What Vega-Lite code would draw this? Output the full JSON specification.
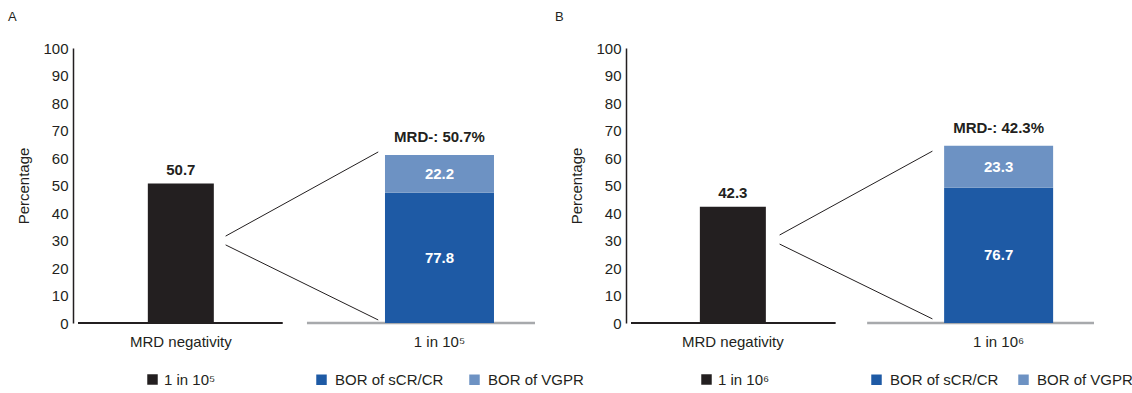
{
  "$schema": "https://vega.github.io/schema/vega-lite/v6.json",
  "autosize": {"type": "pad"},
  "padding": {"left": 8, "top": 11, "right": 5, "bottom": 5},
  "bounds": "flush",
  "spacing": 86,
  "config": {
    "view": {"stroke": null},
    "font": "Liberation Sans",
    "axisY": {
      "domainColor": "#231f20", "domainWidth": 1.5, "ticks": false, "grid": false,
      "labelFont": "Liberation Sans", "labelFontSize": 15, "labelColor": "#231f20", "labelPadding": 5,
      "titleFont": "Liberation Sans", "titleFontSize": 15, "titleFontWeight": "normal", "titleColor": "#231f20", "titlePadding": 11,
      "tickCount": 10
    },
    "legend": {
      "orient": "none", "title": null, "symbolType": "square", "symbolSize": 110, "symbolStrokeWidth": 0,
      "labelFont": "Liberation Sans", "labelFontSize": 15, "labelColor": "#231f20", "padding": 0, "direction": "horizontal"
    },
    "title": {"font": "Liberation Sans", "fontSize": 13, "fontWeight": "normal", "color": "#231f20", "anchor": "start", "frame": "group"}
  },
  "resolve": {
    "scale": {"color": "independent", "fill": "independent", "x": "independent", "y": "independent"},
    "legend": {"color": "independent", "fill": "independent"}
  },
  "hconcat": [
    {
      "width": 467, "height": 275,
      "title": {"text": "A", "dx": -65, "offset": 17},
      "layer": [
        {
          "data": {"values": [{"x0": 0, "x1": 44.8}]},
          "mark": {"type": "rule", "color": "#231f20", "strokeWidth": 2},
          "encoding": {
            "x": {"field": "x0", "type": "quantitative", "scale": {"domain": [0, 100], "nice": false, "zero": false}, "axis": null},
            "x2": {"field": "x1"},
            "y": {"datum": 0, "type": "quantitative", "scale": {"domain": [0, 100], "nice": false}, "title": "Percentage"}
          }
        },
        {
          "data": {"values": [{"x0": 50.1, "x1": 100}]},
          "mark": {"type": "rule", "color": "#a7a9ac", "strokeWidth": 2.5},
          "encoding": {
            "x": {"field": "x0", "type": "quantitative", "scale": {"domain": [0, 100], "nice": false, "zero": false}, "axis": null},
            "x2": {"field": "x1"},
            "y": {"datum": 0, "type": "quantitative", "scale": {"domain": [0, 100], "nice": false}, "title": "Percentage"}
          }
        },
        {
          "data": {"values": [
            {"x1": 32.3, "y1": 31.6, "x2": 65.7, "y2": 62.2},
            {"x1": 32.3, "y1": 28.4, "x2": 65.7, "y2": 1.1}
          ]},
          "mark": {"type": "rule", "color": "#231f20", "strokeWidth": 1},
          "encoding": {
            "x": {"field": "x1", "type": "quantitative", "scale": {"domain": [0, 100], "nice": false, "zero": false}, "axis": null},
            "x2": {"field": "x2"},
            "y": {"field": "y1", "type": "quantitative", "scale": {"domain": [0, 100], "nice": false}, "title": "Percentage"},
            "y2": {"field": "y2"}
          }
        },
        {
          "data": {"values": [{"cat": "MRD negativity", "series": "1 in 10⁵", "xc": 22.5, "pct": 50.7}]},
          "layer": [
            {
              "mark": {"type": "bar", "width": 66},
              "encoding": {
                "x": {"field": "xc", "type": "quantitative", "scale": {"domain": [0, 100], "nice": false, "zero": false}, "axis": null},
                "y": {"field": "pct", "type": "quantitative", "scale": {"domain": [0, 100], "nice": false}, "title": "Percentage"},
                "color": {"field": "series", "type": "nominal", "scale": {"range": ["#231f20"]},
                  "legend": {"legendX": 72, "legendY": 324, "labelOffset": 4}}
              }
            },
            {
              "mark": {"type": "text", "fontSize": 15, "fontWeight": "bold", "color": "#231f20", "dy": -14, "baseline": "middle"},
              "encoding": {
                "x": {"field": "xc", "type": "quantitative", "scale": {"domain": [0, 100], "nice": false, "zero": false}, "axis": null},
                "y": {"field": "pct", "type": "quantitative", "scale": {"domain": [0, 100], "nice": false}, "title": "Percentage"},
                "text": {"field": "pct", "type": "quantitative", "format": ".1f"}
              }
            }
          ]
        },
        {
          "data": {"values": [
            {"cat": "1 in 10⁵", "series": "BOR of sCR/CR", "share": 77.8, "h": 47.4, "xc": 79.1},
            {"cat": "1 in 10⁵", "series": "BOR of VGPR", "share": 22.2, "h": 13.7, "xc": 79.1}
          ]},
          "transform": [
            {"stack": "h", "groupby": ["cat"], "sort": [{"field": "share", "order": "descending"}], "as": ["y0", "y1"]},
            {"calculate": "(datum.y0 + datum.y1) / 2", "as": "ym"}
          ],
          "layer": [
            {
              "mark": {"type": "bar", "width": 109},
              "encoding": {
                "x": {"field": "xc", "type": "quantitative", "scale": {"domain": [0, 100], "nice": false, "zero": false}, "axis": null},
                "y": {"field": "y0", "type": "quantitative", "scale": {"domain": [0, 100], "nice": false}, "title": "Percentage"},
                "y2": {"field": "y1"},
                "fill": {"field": "series", "type": "nominal",
                  "scale": {"domain": ["BOR of sCR/CR", "BOR of VGPR"], "range": ["#1e5aa5", "#6d92c3"]},
                  "legend": {"legendX": 241, "legendY": 324, "labelOffset": 6, "columnPadding": 23}}
              }
            },
            {
              "mark": {"type": "text", "fontSize": 15, "fontWeight": "bold", "color": "white", "baseline": "middle"},
              "encoding": {
                "x": {"field": "xc", "type": "quantitative", "scale": {"domain": [0, 100], "nice": false, "zero": false}, "axis": null},
                "y": {"field": "ym", "type": "quantitative", "scale": {"domain": [0, 100], "nice": false}, "title": "Percentage"},
                "text": {"field": "share", "type": "quantitative", "format": ".1f"}
              }
            }
          ]
        },
        {
          "data": {"values": [{"xc": 79.1, "top": 61.1, "label": "MRD-: 50.7%"}]},
          "mark": {"type": "text", "fontSize": 15, "fontWeight": "bold", "color": "#231f20", "dy": -18, "baseline": "middle"},
          "encoding": {
            "x": {"field": "xc", "type": "quantitative", "scale": {"domain": [0, 100], "nice": false, "zero": false}, "axis": null},
            "y": {"field": "top", "type": "quantitative", "scale": {"domain": [0, 100], "nice": false}, "title": "Percentage"},
            "text": {"field": "label"}
          }
        },
        {
          "data": {"values": [{"xc": 22.5, "label": "MRD negativity"}, {"xc": 79.1, "label": "1 in 10⁵"}]},
          "mark": {"type": "text", "fontSize": 15, "color": "#231f20", "dy": 19, "baseline": "middle"},
          "encoding": {
            "x": {"field": "xc", "type": "quantitative", "scale": {"domain": [0, 100], "nice": false, "zero": false}, "axis": null},
            "y": {"datum": 0, "type": "quantitative", "scale": {"domain": [0, 100], "nice": false}, "title": "Percentage"},
            "text": {"field": "label"}
          }
        }
      ]
    },
    {
      "width": 473, "height": 275,
      "title": {"text": "B", "dx": -71, "offset": 17},
      "layer": [
        {
          "data": {"values": [{"x0": 0, "x1": 44.2}]},
          "mark": {"type": "rule", "color": "#231f20", "strokeWidth": 2},
          "encoding": {
            "x": {"field": "x0", "type": "quantitative", "scale": {"domain": [0, 100], "nice": false, "zero": false}, "axis": null},
            "x2": {"field": "x1"},
            "y": {"datum": 0, "type": "quantitative", "scale": {"domain": [0, 100], "nice": false}, "title": "Percentage"}
          }
        },
        {
          "data": {"values": [{"x0": 51.0, "x1": 100}]},
          "mark": {"type": "rule", "color": "#a7a9ac", "strokeWidth": 2.5},
          "encoding": {
            "x": {"field": "x0", "type": "quantitative", "scale": {"domain": [0, 100], "nice": false, "zero": false}, "axis": null},
            "x2": {"field": "x1"},
            "y": {"datum": 0, "type": "quantitative", "scale": {"domain": [0, 100], "nice": false}, "title": "Percentage"}
          }
        },
        {
          "data": {"values": [
            {"x1": 32.1, "y1": 32.0, "x2": 65.1, "y2": 62.5},
            {"x1": 32.1, "y1": 28.7, "x2": 65.1, "y2": 1.5}
          ]},
          "mark": {"type": "rule", "color": "#231f20", "strokeWidth": 1},
          "encoding": {
            "x": {"field": "x1", "type": "quantitative", "scale": {"domain": [0, 100], "nice": false, "zero": false}, "axis": null},
            "x2": {"field": "x2"},
            "y": {"field": "y1", "type": "quantitative", "scale": {"domain": [0, 100], "nice": false}, "title": "Percentage"},
            "y2": {"field": "y2"}
          }
        },
        {
          "data": {"values": [{"cat": "MRD negativity", "series": "1 in 10⁶", "xc": 22.0, "pct": 42.3}]},
          "layer": [
            {
              "mark": {"type": "bar", "width": 66},
              "encoding": {
                "x": {"field": "xc", "type": "quantitative", "scale": {"domain": [0, 100], "nice": false, "zero": false}, "axis": null},
                "y": {"field": "pct", "type": "quantitative", "scale": {"domain": [0, 100], "nice": false}, "title": "Percentage"},
                "color": {"field": "series", "type": "nominal", "scale": {"range": ["#231f20"]},
                  "legend": {"legendX": 73, "legendY": 324, "labelOffset": 4}}
              }
            },
            {
              "mark": {"type": "text", "fontSize": 15, "fontWeight": "bold", "color": "#231f20", "dy": -14, "baseline": "middle"},
              "encoding": {
                "x": {"field": "xc", "type": "quantitative", "scale": {"domain": [0, 100], "nice": false, "zero": false}, "axis": null},
                "y": {"field": "pct", "type": "quantitative", "scale": {"domain": [0, 100], "nice": false}, "title": "Percentage"},
                "text": {"field": "pct", "type": "quantitative", "format": ".1f"}
              }
            }
          ]
        },
        {
          "data": {"values": [
            {"cat": "1 in 10⁶", "series": "BOR of sCR/CR", "share": 76.7, "h": 49.2, "xc": 79.4},
            {"cat": "1 in 10⁶", "series": "BOR of VGPR", "share": 23.3, "h": 15.3, "xc": 79.4}
          ]},
          "transform": [
            {"stack": "h", "groupby": ["cat"], "sort": [{"field": "share", "order": "descending"}], "as": ["y0", "y1"]},
            {"calculate": "(datum.y0 + datum.y1) / 2", "as": "ym"}
          ],
          "layer": [
            {
              "mark": {"type": "bar", "width": 109},
              "encoding": {
                "x": {"field": "xc", "type": "quantitative", "scale": {"domain": [0, 100], "nice": false, "zero": false}, "axis": null},
                "y": {"field": "y0", "type": "quantitative", "scale": {"domain": [0, 100], "nice": false}, "title": "Percentage"},
                "y2": {"field": "y1"},
                "fill": {"field": "series", "type": "nominal",
                  "scale": {"domain": ["BOR of sCR/CR", "BOR of VGPR"], "range": ["#1e5aa5", "#6d92c3"]},
                  "legend": {"legendX": 243, "legendY": 324, "labelOffset": 6, "columnPadding": 17}}
              }
            },
            {
              "mark": {"type": "text", "fontSize": 15, "fontWeight": "bold", "color": "white", "baseline": "middle"},
              "encoding": {
                "x": {"field": "xc", "type": "quantitative", "scale": {"domain": [0, 100], "nice": false, "zero": false}, "axis": null},
                "y": {"field": "ym", "type": "quantitative", "scale": {"domain": [0, 100], "nice": false}, "title": "Percentage"},
                "text": {"field": "share", "type": "quantitative", "format": ".1f"}
              }
            }
          ]
        },
        {
          "data": {"values": [{"xc": 79.4, "top": 64.5, "label": "MRD-: 42.3%"}]},
          "mark": {"type": "text", "fontSize": 15, "fontWeight": "bold", "color": "#231f20", "dy": -18, "baseline": "middle"},
          "encoding": {
            "x": {"field": "xc", "type": "quantitative", "scale": {"domain": [0, 100], "nice": false, "zero": false}, "axis": null},
            "y": {"field": "top", "type": "quantitative", "scale": {"domain": [0, 100], "nice": false}, "title": "Percentage"},
            "text": {"field": "label"}
          }
        },
        {
          "data": {"values": [{"xc": 22.0, "label": "MRD negativity"}, {"xc": 79.4, "label": "1 in 10⁶"}]},
          "mark": {"type": "text", "fontSize": 15, "color": "#231f20", "dy": 19, "baseline": "middle"},
          "encoding": {
            "x": {"field": "xc", "type": "quantitative", "scale": {"domain": [0, 100], "nice": false, "zero": false}, "axis": null},
            "y": {"datum": 0, "type": "quantitative", "scale": {"domain": [0, 100], "nice": false}, "title": "Percentage"},
            "text": {"field": "label"}
          }
        }
      ]
    }
  ]
}
